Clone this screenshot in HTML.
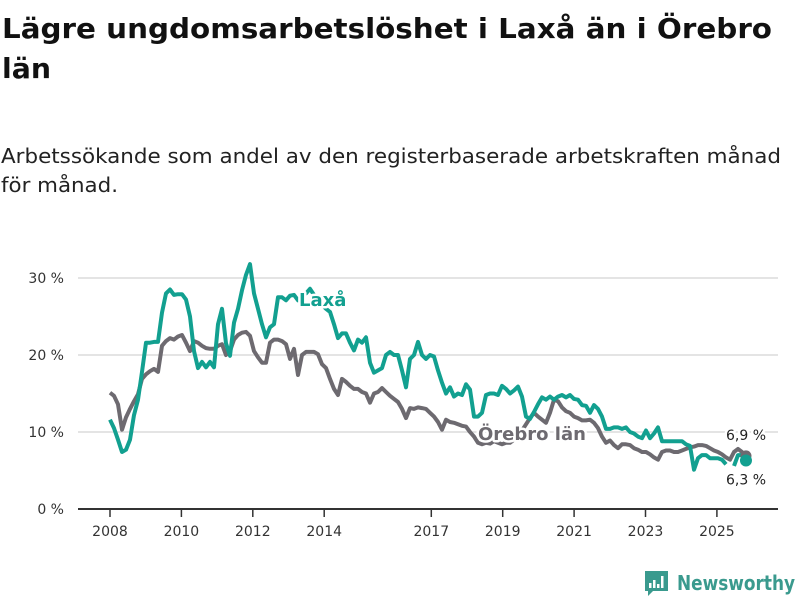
<!DOCTYPE html>
<html><head><meta charset="utf-8"><style>
html,body{margin:0;padding:0;background:#fff;width:800px;height:600px;overflow:hidden}
svg{display:block}
text{font-family:"DejaVu Sans","Liberation Sans",sans-serif}
</style></head><body>
<svg id="chart" width="800" height="600" viewBox="0 0 800 600" xmlns="http://www.w3.org/2000/svg">
<text x="2" y="38" font-size="28" font-weight="bold" fill="#111" textLength="770" lengthAdjust="spacingAndGlyphs">Lägre ungdomsarbetslöshet i Laxå än i Örebro</text>
<text x="2" y="78" font-size="28" font-weight="bold" fill="#111" textLength="49" lengthAdjust="spacingAndGlyphs">län</text>
<text x="1" y="163" font-size="20" fill="#222" textLength="780" lengthAdjust="spacingAndGlyphs">Arbetssökande som andel av den registerbaserade arbetskraften månad</text>
<text x="1" y="192" font-size="20" fill="#222" textLength="117" lengthAdjust="spacingAndGlyphs">för månad.</text>
<g id="grid"></g>
<g id="xaxis"></g>
<g id="series"></g>
<g id="labels"></g>
<g>
<path d="M645 571 h23 v20 h-15 l-5 5 v-5 h-3 z" fill="#3a9a8e"/>
<rect x="649" y="583" width="2.5" height="5" fill="#fff"/><rect x="653" y="580" width="2.5" height="8" fill="#fff"/><rect x="657" y="584" width="2.5" height="4" fill="#fff"/><rect x="661" y="576" width="2.5" height="12" fill="#fff"/>
<text x="677" y="590" font-size="20" font-weight="bold" fill="#3a9a8e" textLength="118" lengthAdjust="spacingAndGlyphs">Newsworthy</text>
</g>
</svg>
<script>
const startYear = 2008;
const stepYears = 0.11204;
const yTicks = [0, 10, 20, 30];
const yTickLabels = ["0 %", "10 %", "20 %", "30 %"];
const xTicks = [2008, 2010, 2012, 2014, 2017, 2019, 2021, 2023, 2025];
const xTickLabels = ["2008", "2010", "2012", "2014", "2017", "2019", "2021", "2023", "2025"];
const laxaValues = [11.6,10.5,9.0,7.4,7.7,9.0,12.2,14.2,17.8,21.6,21.6,21.7,21.7,25.5,28.0,28.5,27.8,27.9,27.9,27.2,25.0,20.5,18.3,19.1,18.4,19.1,18.4,24.0,26.0,21.5,19.9,24.2,26.0,28.4,30.4,31.8,28.0,26.0,24.0,22.3,23.6,24.0,27.5,27.5,27.1,27.7,27.8,27.1,27.7,28.0,28.6,27.8,27.1,26.5,26.0,
25.6,24.0,22.2,22.8,22.8,21.6,20.6,22.0,21.6,22.3,19.0,17.7,18.0,18.3,20.0,20.4,20.0,20.0,18.0,15.8,19.5,20.0,21.7,20.0,19.5,20.0,19.8,18.0,16.4,15.0,15.8,14.6,15.0,14.8,16.2,15.5,12.0,12.0,12.5,14.8,15.0,15.0,14.8,16.0,15.6,15.0,15.4,15.9,14.6,12.0,11.7,12.6,13.6,14.5,14.2,14.6,14.2,14.6,14.8,14.5,14.8,14.3,14.2,13.5,13.4,12.5,13.5,13.0,12.0,10.4,10.4,10.6,10.6,10.4,10.6,10.0,9.8,9.4,9.2,10.2,9.2,9.8,10.6,8.8,8.8,8.8,8.8,8.8,8.8,8.4,8.2,5.1,6.6,7.0,7.0,6.6,6.6,6.6,6.4,5.8,null,5.6,7.0,7.0,6.3];
const orebroValues = [15.1,14.7,13.6,10.3,11.9,13.0,14.0,14.9,16.9,17.5,17.9,18.2,17.8,21.2,21.8,22.2,22.0,22.4,22.6,21.6,20.5,21.8,21.6,21.2,20.9,20.8,20.8,21.2,21.4,20.0,20.5,22.0,22.6,22.9,23.0,22.5,20.5,19.7,19.0,19.0,21.6,22.0,22.0,21.8,21.4,19.5,20.8,17.4,20.0,20.4,20.4,20.4,20.1,18.8,18.3,16.9,15.6,14.8,16.9,16.5,16.0,15.6,15.6,15.2,15.0,13.8,15.0,15.2,15.7,15.2,14.7,14.3,13.9,13.0,11.8,13.1,13.0,13.2,13.1,13.0,12.5,12.0,11.3,10.3,11.6,11.3,11.2,11.0,10.8,10.7,10.0,9.4,8.6,8.4,8.6,8.5,8.8,8.6,8.4,8.6,8.6,9.0,9.4,10.2,11.0,11.8,12.5,12.0,11.6,11.2,12.5,14.2,14.0,13.2,12.7,12.5,12.0,11.8,11.5,11.5,11.6,11.2,10.5,9.4,8.6,8.9,8.3,7.9,8.4,8.4,8.3,7.9,7.7,7.4,7.4,7.1,6.7,6.4,7.4,7.6,7.6,7.4,7.4,7.6,7.8,8.0,8.1,8.3,8.3,8.2,7.9,7.6,7.4,7.1,6.7,6.4,7.4,7.8,7.4,6.9];
const lastLabels = ["6,9 %", "6,3 %"];

const NS = "http://www.w3.org/2000/svg";
function xScale(yr){ return 110 + (yr - 2008) * 35.7; }
function yScale(v){ return 509 - v * 7.7; }
function mk(tag, attrs, parent){ const e = document.createElementNS(NS, tag); for (const k in attrs) e.setAttribute(k, attrs[k]); parent.appendChild(e); return e; }

const grid = document.getElementById('grid');
yTicks.forEach((t, i) => {
  if (t !== 0) {
    const l = mk('line', {x1: 78, x2: 778, y1: yScale(t), y2: yScale(t), stroke: '#dcdcdc', 'stroke-width': 1.5}, grid);
    
    
  }
  const tx = mk('text', {x: 64, y: yScale(t) + 5, 'font-size': 14, fill: '#333', 'text-anchor': 'end'}, grid);
  tx.textContent = yTickLabels[i];
  
  
});
const xa = document.getElementById('xaxis');
const ax = mk('line', {x1: 78, x2: 778, y1: 509, y2: 509, stroke: '#333', 'stroke-width': 2}, xa);


xTicks.forEach((t, i) => {
  const tk = mk('line', {x1: xScale(t), x2: xScale(t), y1: 509, y2: 517, stroke: '#333', 'stroke-width': 1.5}, xa);
  
  
  const tx = mk('text', {x: xScale(t), y: 536, 'font-size': 14, fill: '#333', 'text-anchor': 'middle'}, xa);
  tx.textContent = xTickLabels[i];
  
  
});

function pathFor(vals){
  let d = '', pen = false;
  vals.forEach((v, i) => {
    if (v === null) { pen = false; return; }
    const x = xScale(startYear + i * stepYears), y = yScale(v);
    d += (pen ? 'L' : 'M') + x.toFixed(1) + ' ' + y.toFixed(1);
    pen = true;
  });
  return d;
}
function lastPoint(vals){
  for (let i = vals.length - 1; i >= 0; i--) if (vals[i] !== null) return [xScale(startYear + i * stepYears), yScale(vals[i])];
}
const sg = document.getElementById('series');
const po = mk('path', {d: pathFor(orebroValues), fill: 'none', stroke: '#6d6a70', 'stroke-width': 4, 'stroke-linejoin': 'round'}, sg);


const pl = mk('path', {d: pathFor(laxaValues), fill: 'none', stroke: '#12a090', 'stroke-width': 4, 'stroke-linejoin': 'round'}, sg);


const po2 = lastPoint(orebroValues), pl2 = lastPoint(laxaValues);
const d1 = mk('circle', {cx: po2[0], cy: po2[1], r: 5.5, fill: '#6d6a70'}, sg);


const d2 = mk('circle', {cx: pl2[0], cy: pl2[1], r: 6, fill: '#12a090'}, sg);



const lg = document.getElementById('labels');
function halo(txt, x, y, size, fill, weight, anchor){
  const t = mk('text', {x: x, y: y, 'font-size': size, fill: fill, 'font-weight': weight, 'text-anchor': anchor, stroke: '#fff', 'stroke-width': 5, 'paint-order': 'stroke', 'stroke-linejoin': 'round'}, lg);
  t.textContent = txt;
  return t;
}
const la = halo('Laxå', 299, 306, 18, '#12a090', 'bold', 'start');


const lo = halo('Örebro län', 478, 440, 18, '#6d6a70', 'bold', 'start');


const v1 = halo(lastLabels[0], 746, po2[1] - 16, 14, '#222', 'normal', 'middle');


const v2 = halo(lastLabels[1], 746, pl2[1] + 24, 14, '#222', 'normal', 'middle');


</script>
</body></html>
